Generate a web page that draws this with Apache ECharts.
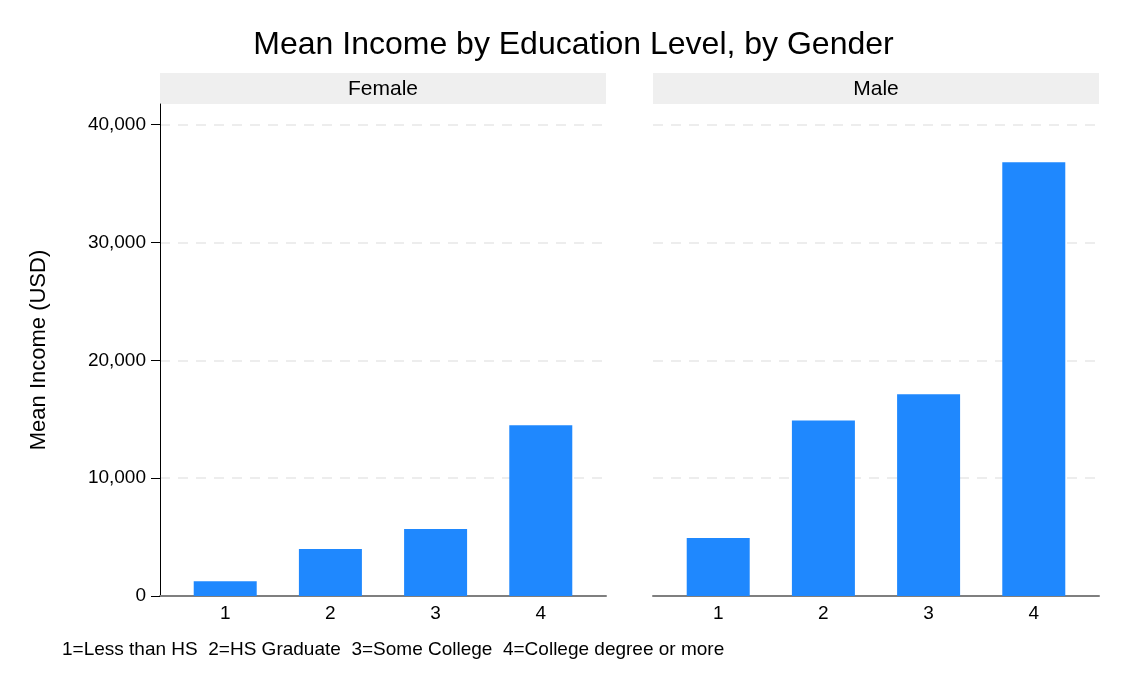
<!DOCTYPE html>
<html lang="en">
<head>
    <meta charset="UTF-8">
    <title>Mean Income by Education Level, by Gender</title>
    <script src="https://cdn.jsdelivr.net/npm/echarts@6.0.0/dist/echarts.min.js"></script>
    <style>
        html, body { margin: 0; padding: 0; background: #fff; }
        #main { width: 1147px; height: 688px; }
    </style>
</head>
<body>
<div id="main"></div>
<script>
    // education level codes (x axis)
    let levels = [1, 2, 3, 4];
    let panels = ['Female', 'Male'];
    // mean income in USD
    let femaleIncome = [1250, 3980, 5680, 14500];
    let maleIncome = [4920, 14890, 17120, 36800];

    let font = 'Liberation Sans';
    let barColor = '#1f88fe';

    function pairs(values) {
        return levels.map(function (lv, i) { return [lv, values[i]]; });
    }

    function fmt(v) {
        return v.toLocaleString('en-US');
    }

    let grids = [
        {left: 160, top: 104, width: 446, bottom: 92},
        {left: 653, top: 104, width: 446, bottom: 92}
    ];

    let xAxes = grids.map(function (g, i) {
        return {
            type: 'value',
            gridIndex: i,
            min: 0.38,
            max: 4.62,
            axisLine: {show: true, lineStyle: {color: '#7f7f7f', width: 2}},
            axisTick: {show: false},
            splitLine: {show: false},
            axisLabel: {
                customValues: levels,
                color: '#000',
                fontFamily: font,
                fontSize: 19,
                margin: 8
            }
        };
    });

    let yAxes = grids.map(function (g, i) {
        return {
            type: 'value',
            gridIndex: i,
            min: 0,
            max: 41750,
            interval: 10000,
            name: i === 0 ? 'Mean Income (USD)' : '',
            nameLocation: 'middle',
            nameGap: 110,
            nameTextStyle: {color: '#000', fontFamily: font, fontSize: 22},
            axisLine: {show: i === 0, lineStyle: {color: '#000', width: 1}},
            axisTick: {show: i === 0, length: 9, lineStyle: {color: '#000', width: 1}},
            axisLabel: {
                show: i === 0,
                showMaxLabel: false,
                color: '#000',
                fontFamily: font,
                fontSize: 19,
                margin: 14,
                formatter: fmt
            },
            splitLine: {
                show: true,
                showMaxLine: false,
                lineStyle: {color: '#e8e8e8', type: [10, 8], width: 1.5}
            }
        };
    });

    let strips = [];
    grids.forEach(function (g, i) {
        strips.push({
            type: 'rect',
            shape: {x: g.left, y: 73, width: g.width, height: 31},
            style: {fill: '#efefef'}
        });
        strips.push({
            type: 'text',
            x: g.left + g.width / 2,
            y: 89,
            style: {
                text: panels[i],
                fill: '#000',
                font: '21px ' + font,
                align: 'center',
                verticalAlign: 'middle'
            }
        });
    });
    strips.push({
        type: 'text',
        x: 62,
        y: 650,
        style: {
            text: '1=Less than HS  2=HS Graduate  3=Some College  4=College degree or more',
            fill: '#000',
            font: '19px ' + font,
            verticalAlign: 'middle'
        }
    });

    let mychart = echarts.init(document.getElementById('main'));
    let option = {
        animation: false,
        backgroundColor: '#fff',
        title: {
            text: 'Mean Income by Education Level, by Gender',
            left: 'center',
            top: 24,
            textStyle: {color: '#000', fontFamily: font, fontSize: 32, fontWeight: 'normal'}
        },
        grid: grids,
        xAxis: xAxes,
        yAxis: yAxes,
        graphic: strips,
        series: [
            {
                name: panels[0],
                type: 'bar',
                xAxisIndex: 0,
                yAxisIndex: 0,
                barWidth: 63,
                itemStyle: {color: barColor},
                data: pairs(femaleIncome)
            },
            {
                name: panels[1],
                type: 'bar',
                xAxisIndex: 1,
                yAxisIndex: 1,
                barWidth: 63,
                itemStyle: {color: barColor},
                data: pairs(maleIncome)
            }
        ]
    };
    mychart.setOption(option);
</script>
</body>
</html>
